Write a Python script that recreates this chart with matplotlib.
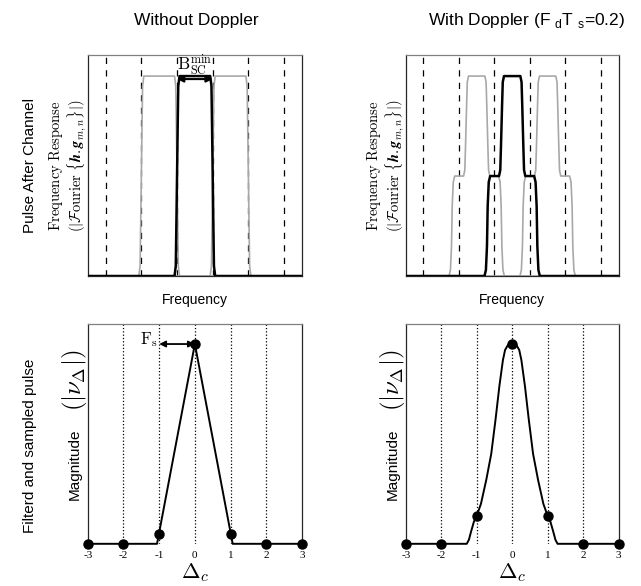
import matplotlib
matplotlib.use("Agg")
import matplotlib.pyplot as plt

# --- datos ---
# fila superior: respuesta en frecuencia (pulso central en negro, vecinos en gris)
f_sin_negro_x = [-3, -0.57, -0.535, -0.515, -0.485, -0.465, -0.43, 0.43, 0.465, 0.485, 0.515, 0.535, 0.57, 3]
f_sin_negro_y = [0, 0, 0.05, 0.3, 0.7, 0.95, 1, 1, 0.95, 0.7, 0.3, 0.05, 0, 0]
f_sin_gris_izq_x = [-3, -1.57, -1.535, -1.515, -1.485, -1.465, -1.43, -0.57, -0.535, -0.515, -0.485, -0.465, -0.43, 3]
f_sin_gris_izq_y = [0, 0, 0.05, 0.3, 0.7, 0.95, 1, 1, 0.95, 0.7, 0.3, 0.05, 0, 0]
f_sin_gris_der_x = [-3, 0.43, 0.465, 0.485, 0.515, 0.535, 0.57, 1.43, 1.465, 1.485, 1.515, 1.535, 1.57, 3]
f_sin_gris_der_y = [0, 0, 0.05, 0.3, 0.7, 0.95, 1, 1, 0.95, 0.7, 0.3, 0.05, 0, 0]

f_con_negro_x = [-3, -0.78, -0.74, -0.71, -0.69, -0.66, -0.62, -0.37, -0.335, -0.315, -0.285, -0.265, -0.23,
                 0.23, 0.265, 0.285, 0.315, 0.335, 0.37, 0.62, 0.66, 0.69, 0.71, 0.74, 0.78, 3]
f_con_negro_y = [0, 0, 0.03, 0.15, 0.35, 0.47, 0.5, 0.5, 0.53, 0.65, 0.85, 0.97, 1,
                 1, 0.97, 0.85, 0.65, 0.53, 0.5, 0.5, 0.47, 0.35, 0.15, 0.03, 0, 0]
f_con_gris_izq_x = [-3, -1.78, -1.74, -1.71, -1.69, -1.66, -1.62, -1.37, -1.335, -1.315, -1.285, -1.265, -1.23,
                    -0.77, -0.735, -0.715, -0.685, -0.665, -0.63, -0.38, -0.34, -0.31, -0.29, -0.26, -0.22, 3]
f_con_gris_izq_y = [0, 0, 0.03, 0.15, 0.35, 0.47, 0.5, 0.5, 0.53, 0.65, 0.85, 0.97, 1,
                    1, 0.97, 0.85, 0.65, 0.53, 0.5, 0.5, 0.47, 0.35, 0.15, 0.03, 0, 0]
f_con_gris_der_x = [-3, 0.22, 0.26, 0.29, 0.31, 0.34, 0.38, 0.63, 0.665, 0.685, 0.715, 0.735, 0.77,
                    1.23, 1.265, 1.285, 1.315, 1.335, 1.37, 1.62, 1.66, 1.69, 1.71, 1.74, 1.78, 3]
f_con_gris_der_y = [0, 0, 0.03, 0.15, 0.35, 0.47, 0.5, 0.5, 0.53, 0.65, 0.85, 0.97, 1,
                    1, 0.97, 0.85, 0.65, 0.53, 0.5, 0.5, 0.47, 0.35, 0.15, 0.03, 0, 0]

lineas_discontinuas = [-2.5, -1.5, -0.5, 0.5, 1.5, 2.5]

# fila inferior: pulso filtrado y muestreado
muestras_x = [-3, -2, -1, 0, 1, 2, 3]
muestras_sin = [0, 0, 0.05, 1, 0.05, 0, 0]
muestras_con = [0, 0, 0.14, 1, 0.14, 0, 0]
pulso_sin_x = [-3, -1.06, 0, 1.06, 3]
pulso_sin_y = [0, 0, 1, 0, 0]
pulso_con_x = [-3, -1.28, -1.22, -1.16, -1.08, -1.0, -0.88, -0.73, -0.59, -0.47, -0.36, -0.26, -0.2, -0.12, 0,
               0.12, 0.2, 0.26, 0.36, 0.47, 0.59, 0.73, 0.88, 1.0, 1.08, 1.16, 1.22, 1.28, 3]
pulso_con_y = [0, 0, 0.02, 0.06, 0.11, 0.14, 0.2, 0.32, 0.45, 0.62, 0.79, 0.92, 0.97, 0.995, 1.0,
               0.995, 0.97, 0.92, 0.79, 0.62, 0.45, 0.32, 0.2, 0.14, 0.11, 0.06, 0.02, 0, 0]
lineas_punteadas = [-2, -1, 0, 1, 2]
etiquetas_x = ["-3", "-2", "-1", "0", "1", "2", "3"]

GRIS = "#a8a8a8"
SANS = "Liberation Sans"

fig = plt.figure(figsize=(6.41, 5.86), dpi=100)
ax_tl = fig.add_axes([0.137, 0.529, 0.334, 0.377])
ax_tr = fig.add_axes([0.633, 0.529, 0.332, 0.377])
ax_bl = fig.add_axes([0.137, 0.072, 0.334, 0.375])
ax_br = fig.add_axes([0.633, 0.072, 0.332, 0.375])

def estilo(ax):
    for lado in ["left", "right", "bottom"]:
        ax.spines[lado].set_color("0.15")
        ax.spines[lado].set_linewidth(0.9)
    ax.spines["top"].set_color("0.5")
    ax.spines["top"].set_linewidth(0.9)

ylab_top = (r"$\mathrm{Frequency\ Response}$" + "\n" +
            r"$(|\mathcal{F}\mathrm{ourier}\ \{\boldsymbol{h}.\boldsymbol{g}_{m,n}\}|)$")

# fila superior
for ax, grises, negro in [
    (ax_tl, [(f_sin_gris_izq_x, f_sin_gris_izq_y), (f_sin_gris_der_x, f_sin_gris_der_y)], (f_sin_negro_x, f_sin_negro_y)),
    (ax_tr, [(f_con_gris_izq_x, f_con_gris_izq_y), (f_con_gris_der_x, f_con_gris_der_y)], (f_con_negro_x, f_con_negro_y)),
]:
    for gx, gy in grises:
        ax.plot(gx, gy, color=GRIS, lw=1.2, zorder=2)
    ax.plot(negro[0], negro[1], color="black", lw=1.8, zorder=3)
    for xv in lineas_discontinuas:
        ax.axvline(xv, color="black", lw=0.9, ls=(0, (5, 5)), zorder=1)
    ax.set_xlim(-3, 3)
    ax.set_ylim(0, 1.105)
    ax.set_xticks([])
    ax.set_yticks([])
    ax.set_xlabel("Frequency", fontsize=10, family=SANS, labelpad=12)
    ax.set_ylabel(ylab_top, fontsize=10.5, math_fontfamily="cm", labelpad=0, linespacing=1.0)
    estilo(ax)

ax_tl.annotate("", xy=(0.5, 0.985), xytext=(-0.5, 0.985),
               arrowprops=dict(arrowstyle="<|-|>", color="black", lw=1.5, mutation_scale=9,
                               shrinkA=0, shrinkB=0), zorder=5)
ax_tl.text(0.0, 1.03, r"$\mathrm{B}_{\mathrm{SC}}^{\mathrm{min}}$", ha="center", va="baseline",
           fontsize=12.5, math_fontfamily="cm", zorder=5)

# fila inferior
for ax, px, py, my in [(ax_bl, pulso_sin_x, pulso_sin_y, muestras_sin),
                       (ax_br, pulso_con_x, pulso_con_y, muestras_con)]:
    for xv in lineas_punteadas:
        ax.axvline(xv, color="black", lw=0.9, ls=":", zorder=1)
    ax.plot(px, py, color="black", lw=1.4, zorder=3, clip_on=False)
    ax.plot(muestras_x, my, "o", color="black", ms=6.5, zorder=4, clip_on=False)
    ax.set_xlim(-3, 3)
    ax.set_ylim(0, 1.1)
    ax.set_yticks([])
    ax.set_xticks(muestras_x)
    ax.set_xticklabels(etiquetas_x, family="Liberation Serif", fontsize=8)
    ax.tick_params(axis="x", length=0, pad=5)
    ax.set_xlabel(r"$\Delta_c$", fontsize=16, math_fontfamily="cm", labelpad=1)
    # etiqueta del eje y en dos partes: texto sans y parte matematica mas grande
    ax.text(-0.06, 0.36, "Magnitude", rotation=90, ha="center", va="center",
            fontsize=11, family=SANS, transform=ax.transAxes)
    ax.text(-0.06, 0.745, r"$\left(|\nu_\Delta|\right)$", rotation=90, ha="center", va="center",
            fontsize=18, math_fontfamily="cm", transform=ax.transAxes)
    estilo(ax)
    ax.spines["bottom"].set_visible(False)

ax_bl.annotate("", xy=(0, 1.0), xytext=(-1, 1.0),
               arrowprops=dict(arrowstyle="<|-|>", color="black", lw=1.3, mutation_scale=9,
                               shrinkA=0, shrinkB=0), zorder=5)
ax_bl.text(-1.05, 1.02, r"$\mathrm{F}_\mathrm{s}$", ha="right", va="center",
           fontsize=12, math_fontfamily="cm")

# titulos de columnas y filas
fig.text(196 / 641, 1 - 20 / 586, "Without Doppler", ha="center", va="center", fontsize=12.5, family=SANS)
fig.text(527 / 641, 1 - 20 / 586, r"With Doppler (F $_\mathregular{d}$T $_\mathregular{s}$=0.2)",
         ha="center", va="center", fontsize=12.5, family=SANS)
fig.text(30 / 641, 1 - 165 / 586, "Pulse After Channel", rotation=90, ha="center", va="center",
         fontsize=11, family=SANS)
fig.text(30 / 641, 1 - 446 / 586, "Filterd and sampled pulse", rotation=90, ha="center", va="center",
         fontsize=11, family=SANS)

fig.savefig("out.png", dpi=100)
